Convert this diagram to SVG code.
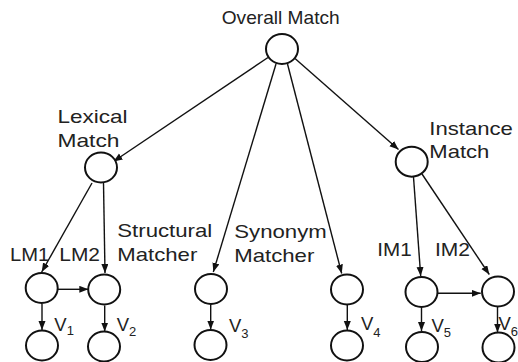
<svg xmlns="http://www.w3.org/2000/svg" width="518" height="362" viewBox="0 0 518 362">
<style>
.n{fill:#fff;stroke:#111;stroke-width:2}
.t{font-family:"Liberation Sans",Arial,sans-serif;font-size:18.5px;fill:#222}
.s{font-size:13px}
.e{fill:none;stroke:#111;stroke-width:1.4;marker-end:url(#ah)}
</style>
<defs>
<marker id="ah" markerUnits="userSpaceOnUse" markerWidth="10" markerHeight="8" refX="9" refY="3.5" orient="auto">
<path d="M0,0 L9,3.5 L0,7 Z" fill="#111"/>
</marker>
</defs>
<rect width="518" height="362" fill="#fff"/>
<g id="connectors">
<path class="e" d="M268,57.5 L113.5,161.5"/>
<path class="e" d="M276,64 L213.3,272"/>
<path class="e" d="M287.5,64 L341.7,273.5"/>
<path class="e" d="M295,58.5 L398.5,149.5"/>
<path class="e" d="M92,183 L41.7,272"/>
<path class="e" d="M103.5,183 L105,273"/>
<path class="e" d="M58,289.3 L88.3,289.3"/>
<path class="e" d="M42,304 L42,330"/>
<path class="e" d="M104.7,305.5 L104.7,331.5"/>
<path class="e" d="M210.7,304.5 L210.7,329.5"/>
<path class="e" d="M347.3,305 L347.3,330"/>
<path class="e" d="M413.5,177 L420.7,276"/>
<path class="e" d="M422,174 L489.3,274.5"/>
<path class="e" d="M438,293.3 L480.7,293.3"/>
<path class="e" d="M421.5,308 L421.5,331"/>
<path class="e" d="M497.5,307 L497.5,332.5"/>
</g>
<g id="overall">
<ellipse class="n" cx="282" cy="49" rx="16" ry="15"/>
<text class="t" x="221.7" y="24" textLength="118" lengthAdjust="spacingAndGlyphs">Overall Match</text>
</g>
<g id="lexical">
<ellipse class="n" cx="101" cy="167.5" rx="16" ry="15"/>
<text class="t" x="57.5" y="123.3" textLength="70" lengthAdjust="spacingAndGlyphs">Lexical</text>
<text class="t" x="57.5" y="146.7" textLength="62" lengthAdjust="spacingAndGlyphs">Match</text>
</g>
<g id="instance">
<ellipse class="n" cx="411.7" cy="161.7" rx="16" ry="15"/>
<text class="t" x="429.3" y="135" textLength="83.5" lengthAdjust="spacingAndGlyphs">Instance</text>
<text class="t" x="429.3" y="157.5" textLength="60" lengthAdjust="spacingAndGlyphs">Match</text>
</g>
<g id="lm1">
<ellipse class="n" cx="41.7" cy="288" rx="16" ry="15"/>
<text class="t" x="10" y="261" textLength="39.3" lengthAdjust="spacingAndGlyphs">LM1</text>
</g>
<g id="lm2">
<ellipse class="n" cx="104.2" cy="289.5" rx="16" ry="15"/>
<text class="t" x="59.3" y="261" textLength="40.7" lengthAdjust="spacingAndGlyphs">LM2</text>
</g>
<g id="structural">
<ellipse class="n" cx="211" cy="289" rx="16" ry="15"/>
<text class="t" x="117.3" y="237.3" textLength="95" lengthAdjust="spacingAndGlyphs">Structural</text>
<text class="t" x="117.3" y="261" textLength="80" lengthAdjust="spacingAndGlyphs">Matcher</text>
</g>
<g id="synonym">
<ellipse class="n" cx="347" cy="289.5" rx="16" ry="15"/>
<text class="t" x="234.3" y="237.7" textLength="92.4" lengthAdjust="spacingAndGlyphs">Synonym</text>
<text class="t" x="234.3" y="261.5" textLength="80" lengthAdjust="spacingAndGlyphs">Matcher</text>
</g>
<g id="im1">
<ellipse class="n" cx="421.5" cy="292" rx="16" ry="15"/>
<text class="t" x="377.3" y="256" textLength="34.4" lengthAdjust="spacingAndGlyphs">IM1</text>
</g>
<g id="im2">
<ellipse class="n" cx="498" cy="291.5" rx="16" ry="15"/>
<text class="t" x="435" y="256" textLength="35" lengthAdjust="spacingAndGlyphs">IM2</text>
</g>
<g id="v1">
<ellipse class="n" cx="42" cy="345.5" rx="16" ry="15"/>
<text class="t" x="54.3" y="331">V<tspan class="s" dy="4">1</tspan></text>
</g>
<g id="v2">
<ellipse class="n" cx="104" cy="346.5" rx="16" ry="15"/>
<text class="t" x="116.7" y="331">V<tspan class="s" dy="4.5">2</tspan></text>
</g>
<g id="v3">
<ellipse class="n" cx="210.5" cy="345" rx="16" ry="15"/>
<text class="t" x="229" y="331.7">V<tspan class="s" dy="6.5">3</tspan></text>
</g>
<g id="v4">
<ellipse class="n" cx="347" cy="345.5" rx="16" ry="15"/>
<text class="t" x="361" y="330">V<tspan class="s" dy="6.5">4</tspan></text>
</g>
<g id="v5">
<ellipse class="n" cx="422" cy="347" rx="16" ry="15"/>
<text class="t" x="431.5" y="331.5">V<tspan class="s" dy="5">5</tspan></text>
</g>
<g id="v6">
<ellipse class="n" cx="498.5" cy="347.5" rx="16" ry="15"/>
<text class="t" x="498.5" y="330">V<tspan class="s" dy="5.5">6</tspan></text>
</g>
</svg>
